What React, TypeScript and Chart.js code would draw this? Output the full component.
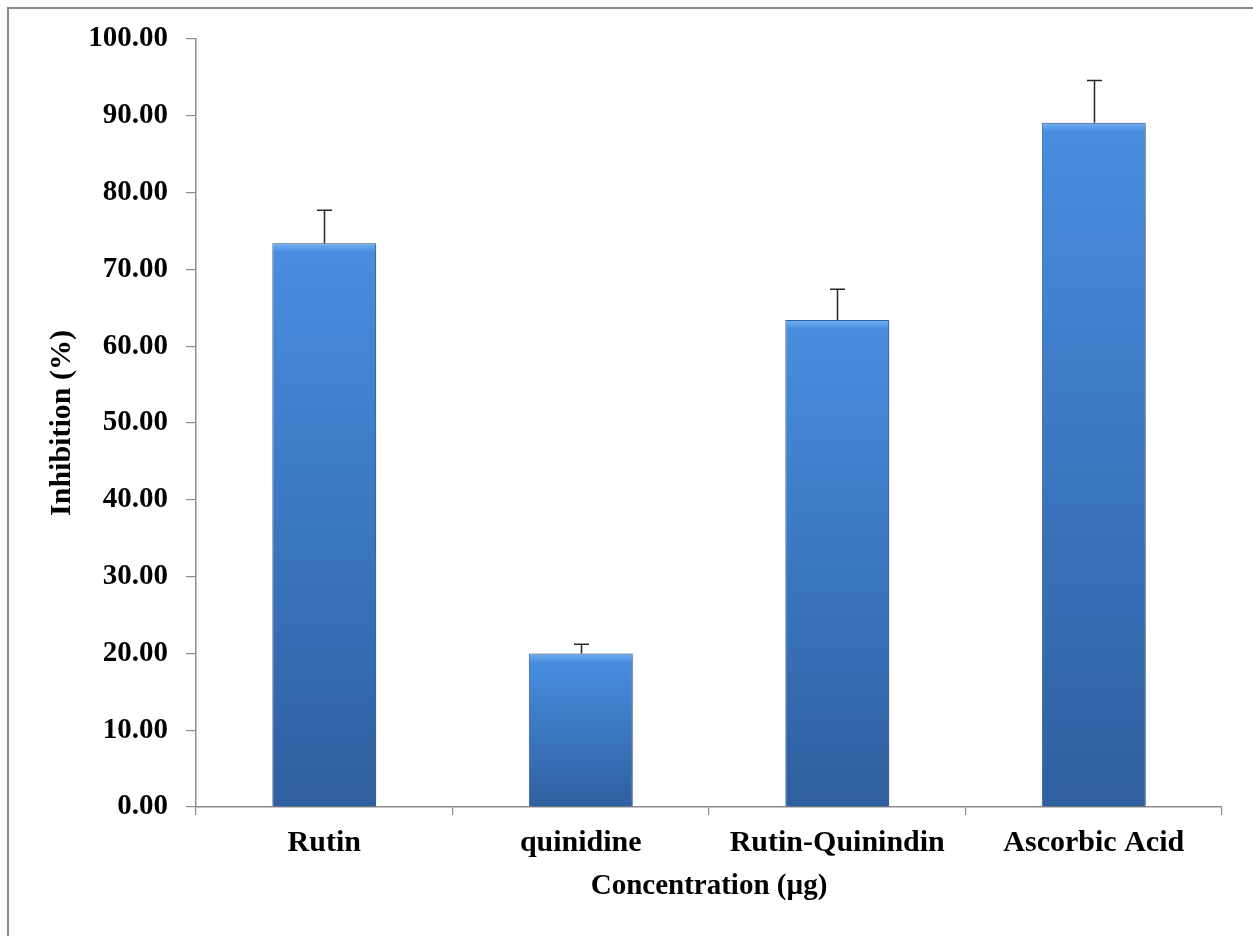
import React, { useEffect, useRef } from "react";
import { Chart, registerables } from "chart.js";

Chart.register(...registerables);

const categories = ["Rutin", "quinidine", "Rutin-Quinindin", "Ascorbic Acid"];
const inhibition = [73.4, 20.0, 63.4, 89.1];
const errors = [4.3, 1.2, 4.0, 5.5];
const yTickValues = [0, 10, 20, 30, 40, 50, 60, 70, 80, 90, 100];
const yTickLabels = yTickValues.map((v) => v.toFixed(2));

const FONT_FAMILY = "'Liberation Serif', 'Times New Roman', serif";
const AXIS_COLOR = "#8c8c8c";

const shadowPlugin = {
  id: "barShadow",
  beforeDatasetsDraw(chart: any) {
    const ctx = chart.ctx;
    ctx.save();
    ctx.shadowColor = "rgba(0,0,0,0.35)";
    ctx.shadowBlur = 4;
    ctx.shadowOffsetX = 2;
    ctx.shadowOffsetY = 1;
  },
  afterDatasetsDraw(chart: any) {
    chart.ctx.restore();
  },
};

const errorBarPlugin = {
  id: "errorBars",
  afterDatasetsDraw(chart: any) {
    const { ctx } = chart;
    const x = chart.scales.x;
    const y = chart.scales.y;
    ctx.save();
    ctx.strokeStyle = "#262626";
    ctx.lineWidth = 1.5;
    inhibition.forEach((v, i) => {
      const px = Math.round(x.getPixelForValue(i)) + 0.5;
      const y0 = y.getPixelForValue(v);
      const y1 = y.getPixelForValue(v + errors[i]);
      ctx.beginPath();
      ctx.moveTo(px, y0);
      ctx.lineTo(px, y1);
      ctx.moveTo(px - 7.5, y1);
      ctx.lineTo(px + 7.5, y1);
      ctx.stroke();
    });
    ctx.restore();
  },
};

export default function App() {
  const canvasRef = useRef<HTMLCanvasElement | null>(null);

  useEffect(() => {
    const canvas = canvasRef.current;
    if (!canvas) return;
    const font = (size: number) => ({ family: FONT_FAMILY, size, weight: "bold" as const });

    const chart = new Chart(canvas, {
      type: "bar",
      data: {
        labels: categories,
        datasets: [
          {
            label: "Inhibition (%)",
            data: inhibition,
            categoryPercentage: 1,
            barPercentage: 0.405,
            borderWidth: 1,
            borderColor: "#3467a8",
            backgroundColor: (c: any) => {
              const chartObj = c.chart;
              const ys = chartObj.scales && chartObj.scales.y;
              if (!ys || c.dataIndex === undefined) return "#3b78c6";
              const top = ys.getPixelForValue(inhibition[c.dataIndex]);
              const base = ys.getPixelForValue(0);
              if (!isFinite(top) || !isFinite(base) || base - top < 1) return "#3b78c6";
              const h = base - top;
              const g = chartObj.ctx.createLinearGradient(0, top, 0, base);
              const f = Math.min(0.45, 9 / h);
              g.addColorStop(0, "#74b2f2");
              g.addColorStop(f * 0.45, "#5fa0ea");
              g.addColorStop(f, "#488ddf");
              g.addColorStop(1, "#2f5f9f");
              return g;
            },
          },
        ],
      },
      options: {
        responsive: false,
        animation: false,
        devicePixelRatio: 1,
        layout: { padding: { top: 39, right: 31, left: 0, bottom: 0 } },
        plugins: {
          legend: { display: false },
          tooltip: { enabled: false },
        },
        scales: {
          x: {
            type: "category",
            offset: true,
            grid: {
              display: true,
              drawOnChartArea: false,
              drawTicks: true,
              tickLength: 8,
              color: AXIS_COLOR,
              offset: true,
              lineWidth: 1.2,
            },
            border: { display: true, color: AXIS_COLOR, width: 1.5 },
            ticks: {
              font: font(30),
              color: "#000",
              padding: 10,
              maxRotation: 0,
              autoSkip: false,
            },
            title: {
              display: true,
              text: "Concentration (µg)",
              font: font(29),
              color: "#000",
              padding: { top: 0, bottom: 32 },
            },
            afterFit: (s: any) => {
              s.height = 129;
            },
          },
          y: {
            min: 0,
            max: 100,
            afterBuildTicks: (s: any) => {
              s.ticks = yTickValues.map((v) => ({ value: v }));
            },
            ticks: {
              font: font(29),
              color: "#000",
              padding: 18,
              callback: (_v: any, i: number) => yTickLabels[i],
            },
            grid: {
              display: true,
              drawOnChartArea: false,
              drawTicks: true,
              tickLength: 10,
              color: AXIS_COLOR,
              lineWidth: 1.2,
            },
            border: { display: true, color: AXIS_COLOR, width: 1.5 },
            title: {
              display: true,
              text: "Inhibition (%)",
              font: font(30),
              color: "#000",
              padding: { top: 44, bottom: 0 },
            },
            afterFit: (s: any) => {
              s.width = 196;
            },
          },
        },
      },
      plugins: [shadowPlugin, errorBarPlugin],
    });

    return () => {
      chart.destroy();
    };
  }, []);

  return (
    <div>
      <div
        style={{
          position: "fixed",
          left: 7,
          top: 7,
          width: 1400,
          height: 1100,
          border: "2px solid #8a8a8a",
          background: "#fff",
        }}
      />
      <canvas
        ref={canvasRef}
        width={1253}
        height={936}
        style={{ position: "fixed", left: 0, top: 0, width: 1253, height: 936, display: "block" }}
      />
    </div>
  );
}
